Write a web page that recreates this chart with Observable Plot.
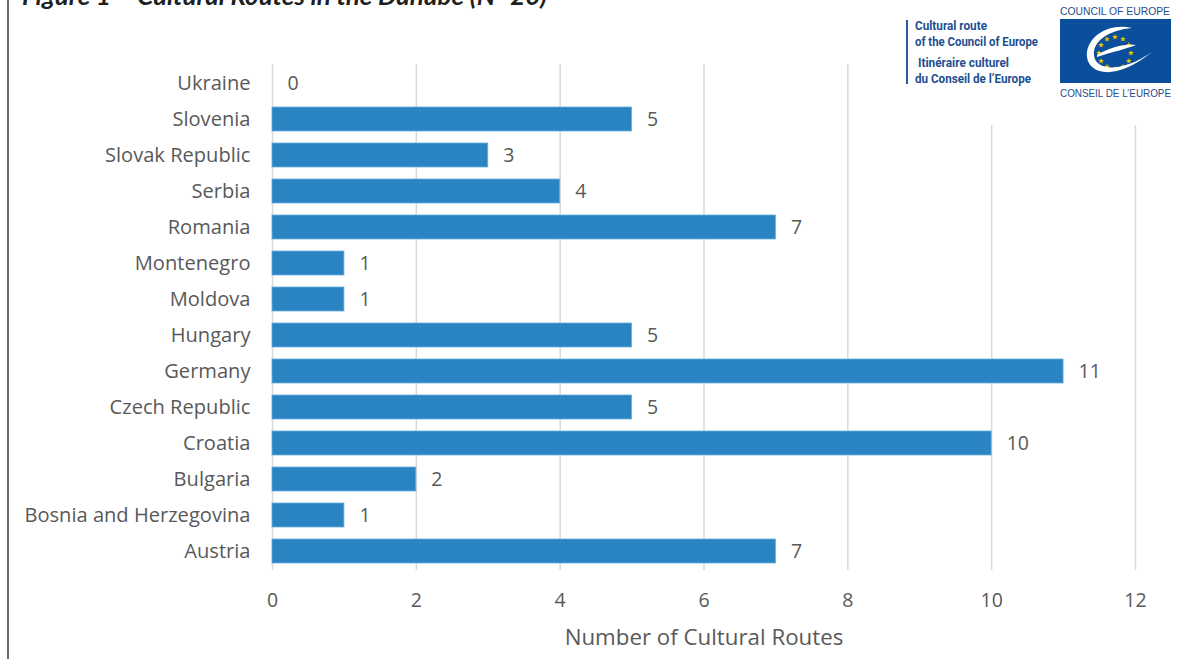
<!DOCTYPE html>
<html>
<head>
<meta charset="utf-8">
<script src="https://cdn.jsdelivr.net/npm/d3@7"></script>
<script src="https://cdn.jsdelivr.net/npm/@observablehq/plot@0.6"></script>
<style>
  html, body { margin: 0; padding: 0; background: #fff; }
  #wrap { position: relative; width: 1184px; height: 659px; overflow: hidden; background: #fff; }
  #chart { position: absolute; left: 0; top: 0; }
  #border { position: absolute; left: 7px; top: 0; width: 2px; height: 659px; background: #6b6b6b; }
  #titlebox { position: absolute; left: 0; top: 0; }
  #logo { position: absolute; left: 890px; top: 0; width: 294px; height: 125px; background: #fff; }
</style>
</head>
<body>
<div id="wrap">
  <div id="chart"></div>
  <div id="border"></div>
  <svg id="titlebox" width="600" height="20" xmlns="http://www.w3.org/2000/svg">
    <text x="22" y="5" font-family="Lato, sans-serif" font-weight="700" font-style="italic" font-size="25.5" fill="#1f1f1f" textLength="525" lengthAdjust="spacingAndGlyphs">Figure 1 – Cultural Routes in the Danube (N=20)</text>
  </svg>
  <div id="logo">
    <svg width="294" height="125" viewBox="0 0 294 125" xmlns="http://www.w3.org/2000/svg">
      <rect x="16" y="20" width="2" height="64" fill="#2a5aa0"/>
      <g font-family="'Liberation Sans Narrow', Roboto, sans-serif" font-weight="700" font-size="12.5" fill="#1d4f91">
        <text x="25" y="30" textLength="72" lengthAdjust="spacingAndGlyphs">Cultural route</text>
        <text x="25" y="46" textLength="123" lengthAdjust="spacingAndGlyphs">of the Council of Europe</text>
        <text x="28" y="67" textLength="91" lengthAdjust="spacingAndGlyphs">Itinéraire culturel</text>
        <text x="25" y="83" textLength="116" lengthAdjust="spacingAndGlyphs">du Conseil de l’Europe</text>
      </g>
      <g font-family="'Liberation Sans', sans-serif" font-size="10.5" fill="#1f4e8c">
        <text x="170" y="15" textLength="110" lengthAdjust="spacingAndGlyphs">COUNCIL OF EUROPE</text>
        <text x="170" y="97" textLength="111" lengthAdjust="spacingAndGlyphs">CONSEIL DE L’EUROPE</text>
      </g>
      <rect x="170" y="19" width="111" height="64" fill="#0b4f9c"/>
      <g id="stars" fill="#f2c500"></g>
      <path d="M 242 28 C 215 22, 195 40, 197 57 C 199 74, 225 82, 262 52 C 230 74, 205 70, 204 55 C 203 40, 220 30, 242 28 Z" fill="#fff"/>
      <path d="M 207 55 C 220 47, 234 44, 246 45 C 236 49, 222 52, 207 57 Z" fill="#fff"/>
    </svg>
  </div>
</div>
<script>
const countries = ["Ukraine","Slovenia","Slovak Republic","Serbia","Romania","Montenegro","Moldova","Hungary","Germany","Czech Republic","Croatia","Bulgaria","Bosnia and Herzegovina","Austria"];
const routes = [0,5,3,4,7,1,1,5,11,5,10,2,1,7];
const xTicks = [0,2,4,6,8,10,12];
const xLabel = "Number of Cultural Routes";

const data = countries.map((c, i) => ({country: c, routes: routes[i]}));

// decorative stars for the logo
(function(){
  const g = document.getElementById("stars");
  const cx = 225, cy = 53, r = 16;
  for (let k = 0; k < 12; k++) {
    const a = k * Math.PI / 6;
    const sx = cx + r * Math.sin(a), sy = cy - r * Math.cos(a);
    let pts = [];
    for (let j = 0; j < 10; j++) {
      const rr = j % 2 === 0 ? 3 : 1.25;
      const b = j * Math.PI / 5;
      pts.push((sx + rr * Math.sin(b)).toFixed(2) + "," + (sy - rr * Math.cos(b)).toFixed(2));
    }
    const p = document.createElementNS("http://www.w3.org/2000/svg", "polygon");
    p.setAttribute("points", pts.join(" "));
    g.appendChild(p);
  }
})();

const chart = Plot.plot({
  width: 1184,
  height: 659,
  marginLeft: 272,
  marginRight: 49,
  marginTop: 64,
  marginBottom: 89,
  style: {fontFamily: "'Open Sans', sans-serif", fontSize: "20px", color: "#595959", background: "transparent"},
  x: {domain: [0, 12], ticks: xTicks, label: null},
  y: {domain: countries, paddingInner: 0.336, paddingOuter: 0.167, label: null},
  marks: [
    Plot.gridX(xTicks, {stroke: "#d9d9d9", strokeOpacity: 1, strokeWidth: 1.5}),
    Plot.barX(data, {x: "routes", y: "country", fill: "#2a84c2", stroke: "#6aaee0", strokeWidth: 0.8}),
    Plot.text(data, {x: "routes", y: "country", text: d => String(d.routes), dx: 15, textAnchor: "start", fill: "#595959", fontSize: 19.5}),
    Plot.axisX({ticks: xTicks, tickSize: 0, tickPadding: 23, label: null, fontSize: 19.5, fill: "#595959"}),
    Plot.axisY({tickSize: 0, tickPadding: 22, label: null, fontSize: 20.1, fill: "#595959"}),
    Plot.text([xLabel], {frameAnchor: "bottom", text: d => d, dy: 74, fontSize: 22.3, fill: "#595959"})
  ]
});
document.getElementById("chart").appendChild(chart);
</script>
</body>
</html>
